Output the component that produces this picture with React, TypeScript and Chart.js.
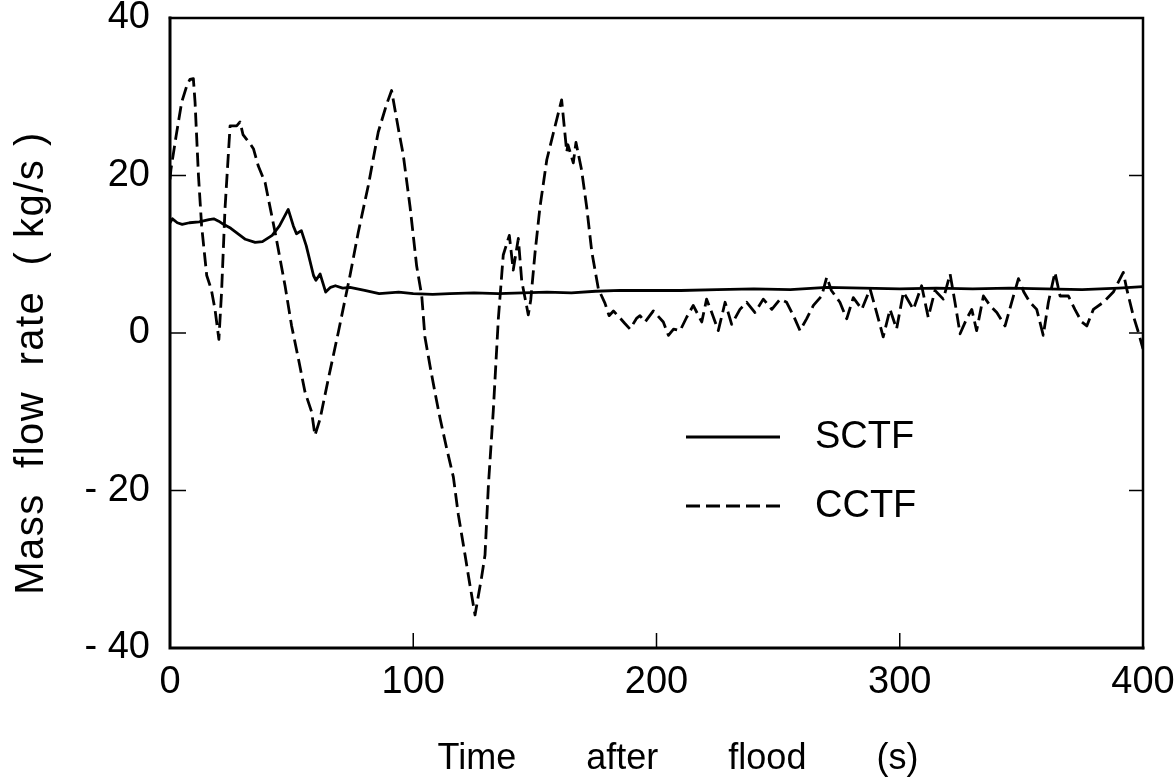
import React, { useEffect, useRef } from "react";
import { Chart, registerables } from "chart.js";

Chart.register(...registerables);

// ---------- data ----------
const xTicks = [0, 100, 200, 300, 400];
const yTicks = [-40, -20, 0, 20, 40];
const yTickLabels = ["- 40", "- 20", "0", "20", "40"];
const seriesNames = ["SCTF", "CCTF"];
const xTitle = "Time       after       flood       (s)";
const yTitle = "Mass  flow  rate  ( kg/s )";

const sctfTime = [
  0, 1, 3, 5, 8, 12, 16, 18, 20, 22, 25, 28, 31, 35, 38, 42, 45, 48.6, 50.7, 52, 54, 56, 59, 60, 61.7,
  64, 66, 68, 71, 74, 80, 86, 94, 100, 108, 115, 125, 135, 145, 155, 165, 175, 185, 195, 210, 225,
  240, 255, 270, 285, 300, 315, 330, 345, 360, 375, 390, 400,
];
const sctfFlow = [
  14.0, 14.5, 14.0, 13.8, 14.0, 14.1, 14.4, 14.5, 14.2, 13.8, 13.3, 12.6, 11.9, 11.5, 11.6, 12.4, 13.6,
  15.7, 13.6, 12.6, 13.0, 11.1, 7.3, 6.7, 7.5, 5.2, 5.8, 6.0, 5.7, 5.8, 5.4, 5.0, 5.2, 5.0, 4.9, 5.0,
  5.1, 5.0, 5.1, 5.2, 5.1, 5.3, 5.4, 5.4, 5.4, 5.5, 5.6, 5.5, 5.8, 5.7, 5.6, 5.7, 5.6, 5.7, 5.6, 5.5,
  5.7, 5.9,
];

const cctfTime = [
  0, 0.4, 2.5, 4.8, 7, 8.2, 9.6, 10.3, 11.7, 13, 15.1, 17, 18.5, 20.1, 21.2, 22.6, 24.7, 27.4, 28.8, 30,
  31.5, 33, 34.3, 36.3, 39.1, 43.2, 47.3, 50, 52.8, 55.5, 58.2, 59.6, 61.7, 65.1, 69.2, 74, 77.4, 81.5,
  85.6, 89, 91.1, 93.9, 95.9, 98.7, 101.4, 103.5, 104.8, 106.9, 108.9, 111, 113.7, 116.5, 118.5, 121.3,
  123.3, 125.4, 128.1, 129.5, 130.9, 132.9, 135, 137, 139.5, 141.1, 143.2, 144.6, 147.3, 148.3, 150.1,
  152.1, 154.9, 157.6, 161, 163.1, 163.6, 165.8, 166.9, 169.2, 171.3, 173.4, 176.1, 178.8, 180.5, 182.3,
  185, 187, 189.1, 191.9, 193.2, 195.3, 198.7, 202.8, 204.9, 207, 209.7, 212.4, 215.1, 218.6, 220.6,
  222.7, 225.4, 228.2, 230.9, 234.3, 237.1, 240.5, 243.9, 247.4, 250.8, 253.5, 256.3, 259, 261.7, 264.5,
  267.9, 270, 271.9, 275.4, 278.2, 280.9, 284.4, 287.8, 290.5, 293.2, 296, 298.7, 301.5, 305.6, 309,
  311.7, 314.5, 317.9, 320.7, 322.7, 324.8, 327.5, 329.6, 331.6, 334.4, 337.1, 339.9, 343.3, 346, 348.8,
  351, 353.5, 356.3, 359, 361.1, 363.8, 365.9, 369.3, 372, 374.8, 376.9, 379.6, 383.7, 387.8, 391.9,
  393.3, 396, 398.1, 400,
];
const cctfFlow = [
  19.5, 20.8, 25, 29.3, 31.5, 32.2, 32.3, 29.3, 20, 13.6, 7.3, 5.5, 3, -0.8, 5.2, 15.7, 26.3, 26.3, 26.8,
  25.2, 24.6, 24.0, 23.4, 21.2, 19.1, 12.8, 6, 0.9, -3.3, -7.5, -10, -13, -10.9, -5.8, 0.1, 7.3, 12.8,
  18.7, 25.5, 29, 30.8, 25.9, 22.6, 16, 8.5, 4.7, -0.5, -4.2, -7.5, -10.8, -14.6, -18.3, -23, -28.2, -32,
  -35.8, -31, -28.2, -19.3, -9.9, 1.9, 9.9, 12.4, 8, 12, 6.6, 2.3, 4.2, 10.3, 16, 22, 25.4, 29.6, 23,
  23.9, 21.6, 24.2, 20.7, 16, 10.3, 5.6, 3.8, 2.2, 2.8, 1.9, 1.2, 0.5, 1.9, 2.2, 1.4, 2.8, 1.4, -0.3,
  0.5, 0.3, 2, 3.5, 1.4, 4.3, 2.6, 0.3, 3.9, 1.1, 3, 3.9, 2.6, 4.3, 3, 4.3, 3.9, 2.2, 0.3, 1.8, 3.5,
  4.7, 7.1, 5.4, 3.9, 1.8, 4.5, 3, 5.6, 2.6, -0.5, 3, 0.5, 5.2, 3, 6, 2, 5.4, 4.3, 7.5, 3.9, -0.1, 1.8,
  3, 0.3, 4.7, 3.5, 2.6, 0.9, 3.9, 6.9, 5.2, 3.9, 3, -0.3, 3.9, 7.7, 4.7, 4.7, 3, 1.4, 0.9, 3, 3.9, 5.2,
  7.7, 5.6, 2.2, 0.1, -2,
];

const FONT = "'Liberation Sans', Arial, sans-serif";

const framePlugin = {
  id: "frameAndText",
  afterDraw(chart: any) {
    const ctx = chart.ctx;
    const { left, right, top, bottom } = chart.chartArea;
    const xs = chart.scales.x;
    const ys = chart.scales.y;
    ctx.save();
    ctx.strokeStyle = "#000";
    ctx.fillStyle = "#000";
    ctx.lineCap = "square";
    // frame
    ctx.lineWidth = 3;
    ctx.beginPath();
    ctx.moveTo(left, top);
    ctx.lineTo(left, bottom);
    ctx.lineTo(right, bottom);
    ctx.stroke();
    ctx.lineWidth = 2.5;
    ctx.beginPath();
    ctx.moveTo(left, top);
    ctx.lineTo(right, top);
    ctx.lineTo(right, bottom);
    ctx.stroke();
    // inner ticks
    ctx.lineWidth = 1.5;
    ctx.lineCap = "butt";
    xTicks.forEach((v) => {
      if (v === xs.min || v === xs.max) return;
      const px = xs.getPixelForValue(v);
      ctx.beginPath();
      ctx.moveTo(px, bottom);
      ctx.lineTo(px, bottom - 15);
      ctx.stroke();
    });
    yTicks.forEach((v) => {
      if (v === ys.min || v === ys.max) return;
      const py = ys.getPixelForValue(v);
      ctx.beginPath();
      ctx.moveTo(left, py);
      ctx.lineTo(left + 16, py);
      ctx.moveTo(right, py);
      ctx.lineTo(right - 14, py);
      ctx.stroke();
    });
    // axis titles
    ctx.font = `36px ${FONT}`;
    ctx.textAlign = "center";
    ctx.textBaseline = "middle";
    ctx.fillText(xTitle, 678, 759);
    ctx.save();
    ctx.translate(43, 363);
    ctx.rotate(-Math.PI / 2);
    ctx.font = `40px ${FONT}`;
    ctx.textBaseline = "alphabetic";
    try {
      (ctx as any).letterSpacing = "1.5px";
    } catch (e) {}
    ctx.fillText(yTitle, 0, 0);
    ctx.restore();
    // legend
    const legendY = [437, 506];
    chart.data.datasets.forEach((ds: any, i: number) => {
      const y = legendY[i];
      ctx.save();
      ctx.lineWidth = ds.borderWidth;
      ctx.setLineDash(ds.borderDash || []);
      ctx.beginPath();
      ctx.moveTo(686, y);
      ctx.lineTo(780, y);
      ctx.stroke();
      ctx.restore();
      ctx.font = `38px ${FONT}`;
      ctx.textAlign = "left";
      ctx.textBaseline = "middle";
      ctx.fillText(ds.label, 815, y + 1);
    });
    ctx.restore();
  },
};

export default function App() {
  const ref = useRef<HTMLCanvasElement | null>(null);
  useEffect(() => {
    if (!ref.current) return;
    const chart = new Chart(ref.current, {
      type: "line",
      data: {
        datasets: [
          {
            label: seriesNames[0],
            data: sctfTime.map((t, i) => ({ x: t, y: sctfFlow[i] })),
            borderColor: "#000",
            borderWidth: 2.8,
            pointRadius: 0,
            tension: 0,
            fill: false,
            borderJoinStyle: "round",
          },
          {
            label: seriesNames[1],
            data: cctfTime.map((t, i) => ({ x: t, y: cctfFlow[i] })),
            borderColor: "#000",
            borderWidth: 2.8,
            borderDash: [14, 6],
            pointRadius: 0,
            tension: 0,
            fill: false,
            borderJoinStyle: "round",
          },
        ],
      },
      options: {
        responsive: false,
        animation: false,
        events: [],
        layout: { padding: { left: 0, right: 31, top: 18, bottom: 0 } },
        plugins: { legend: { display: false }, tooltip: { enabled: false }, title: { display: false } },
        scales: {
          x: {
            type: "linear",
            min: 0,
            max: 400,
            grid: { display: false, drawTicks: false },
            border: { display: false },
            ticks: {
              color: "#000",
              font: { family: FONT, size: 38 },
              padding: 12,
              maxRotation: 0,
              callback: (v: any) => String(v),
            },
            afterBuildTicks: (s: any) => {
              s.ticks = xTicks.map((v) => ({ value: v }));
            },
            afterFit: (s: any) => {
              s.height = 136;
              s.paddingLeft = 0;
              s.paddingRight = 0;
            },
          },
          y: {
            type: "linear",
            min: -40,
            max: 40,
            grid: { display: false, drawTicks: false },
            border: { display: false },
            ticks: {
              color: "#000",
              font: { family: FONT, size: 38 },
              padding: 20,
              callback: (v: any) => {
                const i = yTicks.indexOf(Number(v));
                return i >= 0 ? yTickLabels[i] : "";
              },
            },
            afterBuildTicks: (s: any) => {
              s.ticks = yTicks.map((v) => ({ value: v }));
            },
            afterFit: (s: any) => {
              s.width = 170;
              s.paddingTop = 0;
              s.paddingBottom = 0;
            },
          },
        },
      },
      plugins: [framePlugin],
    } as any);
    return () => chart.destroy();
  }, []);
  return (
    <div style={{ position: "fixed", left: 0, top: 0, width: 1174, height: 784, background: "#fff" }}>
      <canvas ref={ref} width={1174} height={784} style={{ display: "block" }} />
    </div>
  );
}
